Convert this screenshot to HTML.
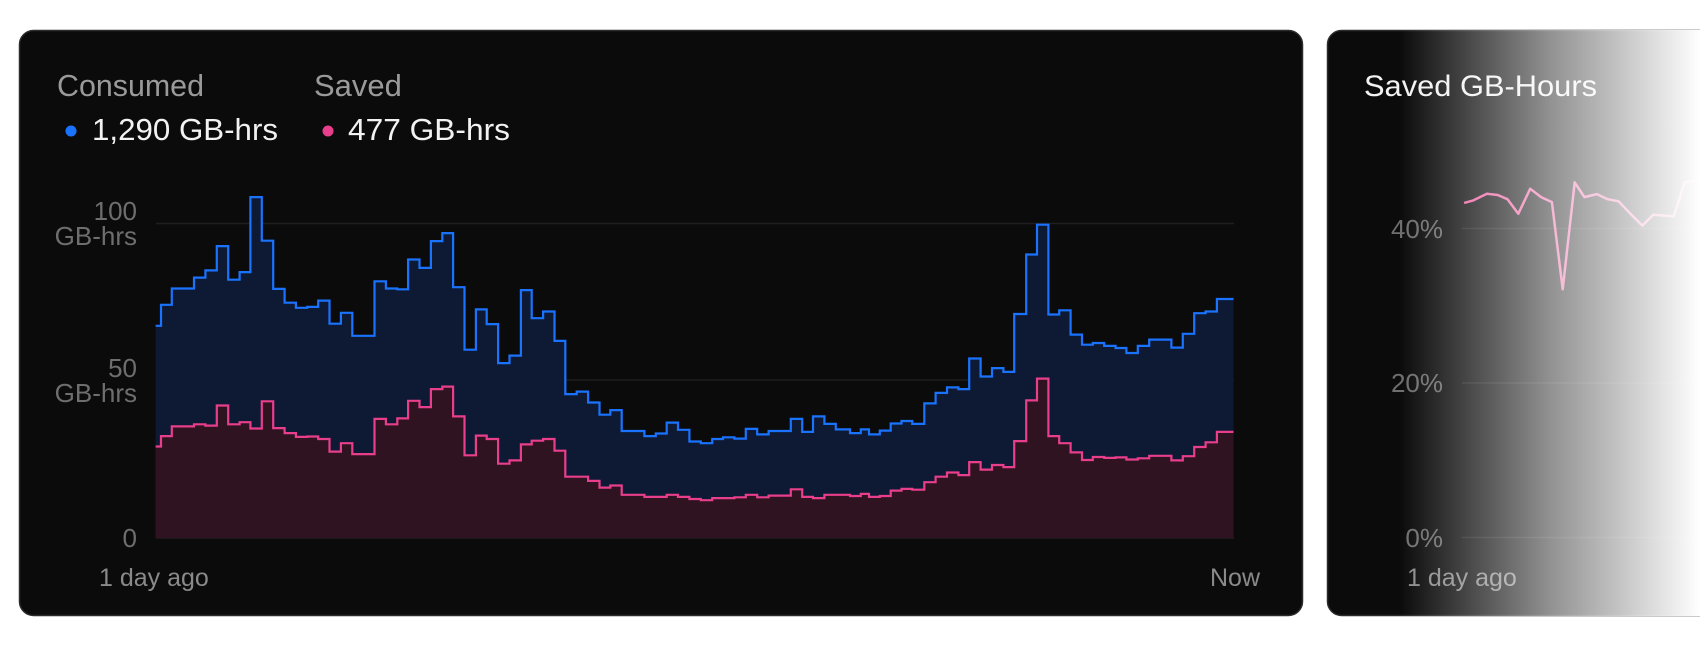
<!DOCTYPE html>
<html><head><meta charset="utf-8"><style>
html,body{margin:0;padding:0;background:#fff;width:1700px;height:658px;overflow:hidden}
svg{display:block;font-family:"Liberation Sans",sans-serif}
</style></head><body>
<svg id="s" width="1700" height="658" viewBox="0 0 1700 658" xmlns="http://www.w3.org/2000/svg">
<defs>
<linearGradient id="fade" x1="1400" y1="0" x2="1700" y2="0" gradientUnits="userSpaceOnUse">
<stop offset="0" stop-color="#fff" stop-opacity="0"/>
<stop offset="0.5" stop-color="#fff" stop-opacity="0.55"/>
<stop offset="1" stop-color="#fff" stop-opacity="1"/>
</linearGradient>
</defs>
<rect x="19.5" y="30.5" width="1283" height="585" rx="14" fill="#0b0b0b" stroke="#2c2c2c" stroke-width="1.5"/>
<rect x="1327.5" y="30.5" width="400" height="585" rx="14" fill="#0b0b0b" stroke="#2c2c2c" stroke-width="1.5"/>
<text x="57" y="96" font-size="31" fill="#9a9a9a" textLength="147" lengthAdjust="spacingAndGlyphs">Consumed</text>
<text x="314" y="96" font-size="31" fill="#9a9a9a">Saved</text>
<circle cx="71" cy="131" r="5.5" fill="#1a73ff"/>
<text x="92" y="140" font-size="31" fill="#f2f2f2" textLength="186" lengthAdjust="spacingAndGlyphs">1,290 GB-hrs</text>
<circle cx="328" cy="131" r="5.5" fill="#e83e8c"/>
<text x="348" y="140" font-size="31" fill="#f2f2f2" textLength="162" lengthAdjust="spacingAndGlyphs">477 GB-hrs</text>
<g font-size="26" fill="#6e6e6e" text-anchor="end">
<text x="137" y="220">100</text><text x="137" y="245">GB-hrs</text>
<text x="137" y="377">50</text><text x="137" y="402">GB-hrs</text>
<text x="137" y="547">0</text>
</g>
<g stroke="#1e1e1e" stroke-width="1.5">
<line x1="156" y1="223.5" x2="1234" y2="223.5"/>
<line x1="156" y1="380" x2="1234" y2="380"/>
<line x1="156" y1="538" x2="1234" y2="538"/>
</g>
<path id="cf" fill="#0e1a33"/>
<path id="sf" fill="#301320"/>
<path id="cl" fill="none" stroke="#1a73ff" stroke-width="2.2"/>
<path id="sl" fill="none" stroke="#e83e8c" stroke-width="2.2"/>
<text x="99" y="586" font-size="25" fill="#8a8a8a">1 day ago</text>
<text x="1260" y="586" font-size="25" fill="#8a8a8a" text-anchor="end">Now</text>
<text x="1364" y="96" font-size="30" fill="#f2f2f2" textLength="233" lengthAdjust="spacingAndGlyphs">Saved GB-Hours</text>
<g stroke="#1e1e1e" stroke-width="1.5">
<line x1="1462" y1="228.5" x2="1700" y2="228.5"/>
<line x1="1462" y1="383" x2="1700" y2="383"/>
<line x1="1462" y1="537.5" x2="1700" y2="537.5"/>
</g>
<g font-size="26" fill="#6e6e6e" text-anchor="end">
<text x="1443" y="238">40%</text><text x="1443" y="392">20%</text><text x="1443" y="547">0%</text>
</g>
<path id="rl" fill="none" stroke="#ec5fa0" stroke-width="2.5" stroke-linejoin="round"/>
<text x="1407" y="586" font-size="25" fill="#8a8a8a">1 day ago</text>
<rect x="1328" y="30" width="372" height="586" fill="url(#fade)"/>
</svg>
<script>
var c1=[[287,777],[297,727],[317,688],[358,662],[379,645],[400,587],[421,667],[442,649],[462,470],[483,574],[504,689],[525,722],[546,734],[567,732],[587,717],[608,772],[629,746],[650,801],[691,671],[712,688],[733,690],[753,619],[774,639],[795,575],[816,556],[836,685],[857,834],[878,738],[898,773],[919,866],[940,848],[961,692],[981,759],[1002,743],[1023,813],[1043,940],[1064,934],[1085,960],[1106,989],[1126,978],[1147,1028],[1189,1040],[1210,1034],[1230,1008],[1251,1025],[1272,1053],[1293,1057],[1314,1047],[1334,1043],[1355,1046],[1376,1023],[1397,1036],[1418,1028],[1459,999],[1480,1030],[1500,993],[1521,1011],[1542,1024]];
var s1=[[287,1065],[297,1040],[317,1017],[358,1012],[379,1015],[400,967],[421,1012],[442,1007],[462,1022],[483,957],[504,1021],[525,1033],[546,1042],[567,1041],[587,1047],[608,1077],[629,1057],[650,1083],[691,999],[712,1012],[733,998],[753,956],[774,971],[795,928],[816,922],[836,993],[857,1086],[878,1039],[898,1047],[919,1106],[940,1098],[961,1060],[981,1051],[1002,1047],[1023,1075],[1043,1137],[1085,1147],[1106,1163],[1126,1158],[1147,1180],[1189,1185],[1230,1180],[1251,1185],[1272,1190],[1293,1193],[1314,1188],[1355,1186],[1376,1180],[1397,1186],[1418,1182],[1459,1167],[1480,1185],[1500,1188],[1521,1180]];
var c2=[[0,1033],[20,1024],[35,1036],[55,1027],[75,1010],[95,1004],[115,1011],[137,962],[158,937],[179,924],[200,928],[220,855],[241,898],[262,878],[283,887],[303,749],[325,607],[345,536],[366,750],[386,740],[407,798],[428,822],[448,818],[469,825],[490,830],[510,842],[531,825],[552,810],[593,829],[614,796],[635,747],[656,743],[677,713]];
var s2=[[0,1183],[20,1178],[35,1185],[55,1183],[75,1170],[95,1166],[115,1168],[137,1150],[158,1137],[179,1127],[200,1133],[220,1102],[241,1120],[262,1109],[283,1114],[303,1052],[325,955],[345,903],[366,1040],[386,1057],[407,1079],[428,1097],[448,1090],[469,1092],[490,1091],[510,1096],[531,1093],[552,1087],[593,1098],[614,1088],[635,1066],[656,1055],[677,1030]];
function conv(a,off){return a.map(function(p){return [off+p[0]/1.845,p[1]/2.385];});}
function build(a,b){var pts=conv(a,0).concat(conv(b,850));var end=1233.5;
var d="";for(var i=0;i<pts.length;i++){var x=pts[i][0],y=pts[i][1];var nx=i+1<pts.length?pts[i+1][0]:end;
if(i===0)d+="M"+x.toFixed(1)+","+y.toFixed(1);else d+="V"+y.toFixed(1);d+="H"+nx.toFixed(1);}
return {line:d,fill:d+"V538H"+pts[0][0].toFixed(1)+"Z"};}
var c=build(c1,c2),s=build(s1,s2);
document.getElementById('cl').setAttribute('d',c.line);document.getElementById('cf').setAttribute('d',c.fill);
document.getElementById('sl').setAttribute('d',s.line);document.getElementById('sf').setAttribute('d',s.fill);
var r=[[1133,484],[1150,478],[1175,462],[1195,465],[1213,475],[1233,510],[1255,450],[1275,470],[1295,482],[1315,690],[1337,435],[1355,470],[1378,463],[1398,475],[1418,480],[1440,510],[1462,538],[1482,512],[1500,514],[1520,516],[1540,435],[1568,430]];
document.getElementById('rl').setAttribute('d',"M"+conv(r,850).map(function(p){return p[0].toFixed(1)+","+p[1].toFixed(1);}).join("L"));
</script>
</body></html>
